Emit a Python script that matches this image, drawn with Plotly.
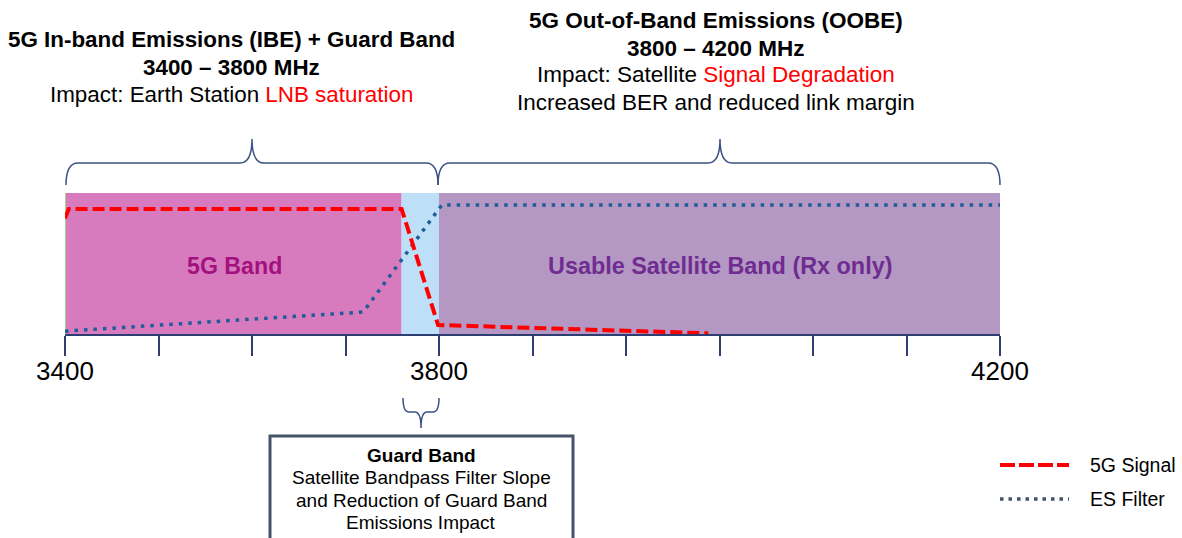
import plotly.graph_objects as go

# ---------------- data ----------------
# x positions are expressed in axis tick units (0..10); labelled ticks:
tick_pos = list(range(11))
tick_text = ['3400', '', '', '', '3800', '', '', '', '', '', '4200']

# frequency bands (start, end) in axis units
band_names = ['5G Band', 'Guard Band', 'Usable Satellite Band (Rx only)']
band_start = [0.0, 3.6, 4.0]
band_end = [3.6, 4.0, 10.0]

# 5G signal (relative level 0..1)
sig_x = [0.0, 0.04, 3.6, 3.99, 6.88]
sig_y = [0.82, 0.887, 0.887, 0.064, 0.005]

# Earth-station filter response (relative level 0..1)
filt_x = [0.0, 3.19, 4.03, 10.0]
filt_y = [0.02, 0.156, 0.915, 0.915]

# ---------------- style ----------------
W, H = 1182, 538
PL, PR, PT, PB = 65, 1000, 193, 334          # plot area in pixels
FONT = 'Liberation Sans, Arial, sans-serif'
band_colors = ['#D87BBE', '#BDE0F8', '#B497C3']
AX = '#2F3E72'
BR = '#3B5184'


def px(x):
    return (x - PL) / (PR - PL)


def py(y):
    return (PB - y) / (PB - PT)


fig = go.Figure()
fig.add_trace(go.Scatter(x=filt_x, y=filt_y, mode='lines', name='ES Filter',
                         line=dict(color='#1F5C99', width=3.5, dash='3.5px,6px')))
fig.add_trace(go.Scatter(x=sig_x, y=sig_y, mode='lines', name='5G Signal',
                         line=dict(color='#FF0000', width=4, dash='12px,5px')))

shapes = []
for x0, x1, c in zip(band_start, band_end, band_colors):
    shapes.append(dict(type='rect', xref='x', yref='y', x0=x0, x1=x1, y0=0, y1=1,
                       fillcolor=c, line=dict(width=0), layer='below'))
shapes.append(dict(type='line', xref='x', yref='y', x0=0, x1=0, y0=0, y1=1,
                   line=dict(color='#A9D18E', width=2), layer='below'))


def hbrace_up(x0, x1, xm, yb, yh, yt, r=12):
    p = (f"M {px(x0)},{py(yb)} Q {px(x0)},{py(yh)} {px(x0 + r)},{py(yh)} "
         f"L {px(xm - r)},{py(yh)} Q {px(xm)},{py(yh)} {px(xm)},{py(yt)} "
         f"Q {px(xm)},{py(yh)} {px(xm + r)},{py(yh)} "
         f"L {px(x1 - r)},{py(yh)} Q {px(x1)},{py(yh)} {px(x1)},{py(yb)}")
    return dict(type='path', xref='paper', yref='paper', path=p,
                line=dict(color=BR, width=1.5))


shapes.append(hbrace_up(66, 438, 252, 185, 163, 139))
shapes.append(hbrace_up(438, 1000, 720, 185, 163, 139))
shapes.append(hbrace_up(403, 439, 421, 398, 412, 428, r=6))

# guard band box
shapes.append(dict(type='rect', xref='paper', yref='paper', x0=px(270), x1=px(573),
                   y0=py(436), y1=py(560), fillcolor='white',
                   line=dict(color='#44546A', width=3)))

# legend
shapes.append(dict(type='line', xref='paper', yref='paper', x0=px(1000), x1=px(1069),
                   y0=py(465), y1=py(465), line=dict(color='#FF0000', width=4, dash='15px,4px')))
shapes.append(dict(type='line', xref='paper', yref='paper', x0=px(1000), x1=px(1069),
                   y0=py(499), y1=py(499), line=dict(color='#44546A', width=3.5, dash='3.5px,5px')))

annotations = []


def txt(x, y, s, size, color='black', xanchor='center'):
    annotations.append(dict(xref='paper', yref='paper', x=px(x), y=py(y), text=s,
                            showarrow=False, xanchor=xanchor, yanchor='middle',
                            font=dict(family=FONT, size=size, color=color)))


txt(231, 40, '<b>5G In-band Emissions (IBE) + Guard Band</b>', 22.4)
txt(231, 67, '<b>3400 – 3800 MHz</b>', 22.4)
txt(231, 94, "Impact: Earth Station <span style='color:#FF0000'>LNB saturation</span>", 22.4)

txt(716, 20, '<b>5G Out-of-Band Emissions (OOBE)</b>', 22.5)
txt(716, 48, '<b>3800 – 4200 MHz</b>', 22.5)
txt(716, 75, "Impact: Satellite <span style='color:#FF0000'>Signal Degradation</span>", 22.5)
txt(716, 102, 'Increased BER and reduced link margin', 22.5)

txt(234, 266, '<b>5G Band</b>', 23.2, '#A3117F')
txt(720, 266, '<b>Usable Satellite Band (Rx only)</b>', 23.4, '#6F2C91')

txt(421, 455, '<b>Guard Band</b>', 19)
txt(421, 478, 'Satellite Bandpass Filter Slope', 19)
txt(421, 500, 'and Reduction of Guard Band', 19)
txt(421, 522, 'Emissions Impact', 19)

txt(1088, 465, '5G Signal', 19.5, xanchor='left')
txt(1088, 499, 'ES Filter', 19.5, xanchor='left')

fig.update_layout(
    width=W, height=H,
    margin=dict(l=PL, r=W - PR, t=PT, b=H - PB, pad=0),
    paper_bgcolor='white', plot_bgcolor='white',
    showlegend=False,
    shapes=shapes, annotations=annotations,
    xaxis=dict(range=[0, 10], tickvals=tick_pos, ticktext=tick_text,
               showgrid=False, zeroline=False, showline=True, linecolor=AX, linewidth=2,
               ticks='outside', ticklen=20, tickwidth=2, tickcolor=AX,
               ticklabelstandoff=-7,
               tickfont=dict(family=FONT, size=26, color='black'), automargin=False,
               fixedrange=True),
    yaxis=dict(range=[0, 1], visible=False, automargin=False, fixedrange=True),
)

fig.write_html('out.html', post_script="document.body.style.margin='0';",
               config={'displayModeBar': False})
